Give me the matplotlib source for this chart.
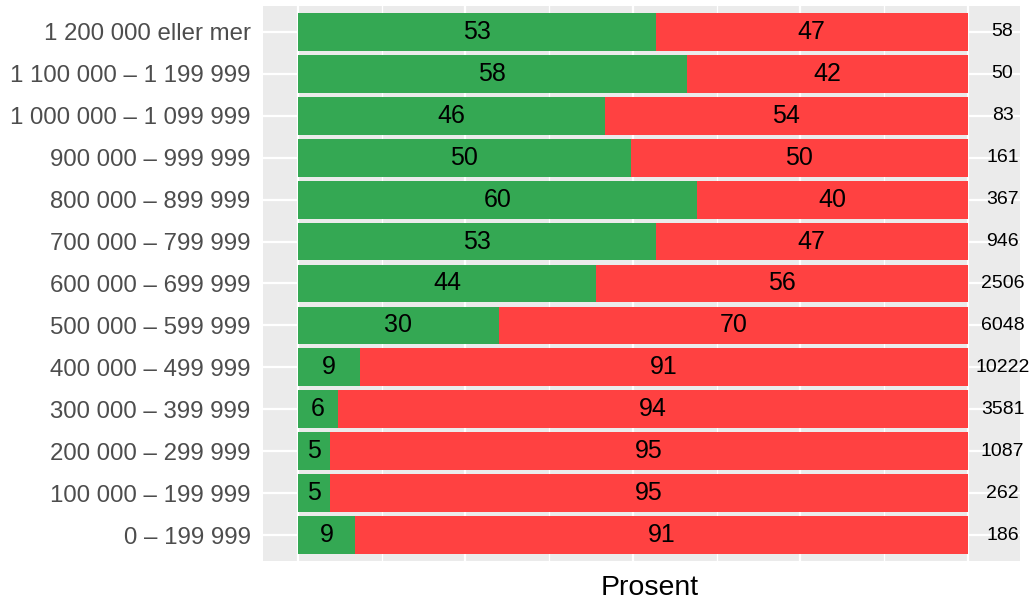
import numpy as np
import matplotlib
matplotlib.use('Agg')
import matplotlib.pyplot as plt

# Income brackets, top to bottom as shown
categories = [
    '1 200 000 eller mer',
    '1 100 000 – 1 199 999',
    '1 000 000 – 1 099 999',
    '900 000 – 999 999',
    '800 000 – 899 999',
    '700 000 – 799 999',
    '600 000 – 699 999',
    '500 000 – 599 999',
    '400 000 – 499 999',
    '300 000 – 399 999',
    '200 000 – 299 999',
    '100 000 – 199 999',
    '0 – 199 999',
]
green_share = [53.4, 58.1, 45.8, 49.7, 59.6, 53.4, 44.5, 30.0, 9.3, 6.0, 4.8, 4.8, 8.6]
# printed labels
green_labels = ['53', '58', '46', '50', '60', '53', '44', '30', '9', '6', '5', '5', '9']
red_labels = ['47', '42', '54', '50', '40', '47', '56', '70', '91', '94', '95', '95', '91']
counts = [58, 50, 83, 161, 367, 946, 2506, 6048, 10222, 3581, 1087, 262, 186]

GREEN = '#34A853'
RED = '#FF4141'
PANEL = '#EBEBEB'

plt.rcParams['font.family'] = ['Liberation Sans', 'DejaVu Sans']

fig = plt.figure(figsize=(10.34, 6.03), dpi=100)
ax = fig.add_axes([263 / 1034, 1 - 561 / 603, (1020 - 263) / 1034, (561 - 6) / 603])
ax.set_facecolor(PANEL)

n = len(categories)
y = np.arange(n)[::-1]
green = np.array(green_share)
red = 100 - green

# grid
for gx in np.arange(0, 101, 12.5):
    ax.axvline(gx, color='white', linewidth=1.6 if gx % 25 == 0 else 0.9, zorder=1)
for gy in y:
    ax.axhline(gy, color='white', linewidth=1.6, zorder=1)

ax.barh(y, green, height=0.9, color=GREEN, zorder=2)
ax.barh(y, red, left=green, height=0.9, color=RED, zorder=2)

for yi, g, r, gl, rl, c in zip(y, green, red, green_labels, red_labels, counts):
    ax.text(g / 2, yi, gl, ha='center', va='center', fontsize=18, color='black', zorder=3)
    ax.text(g + r / 2, yi, rl, ha='center', va='center', fontsize=18, color='black', zorder=3)
    ax.text(105.2, yi, str(c), ha='center', va='center', fontsize=14, color='black', zorder=3)

ax.set_xlim(-5.2, 107.8)
ax.set_ylim(-0.62, n - 1 + 0.62)
ax.set_yticks(y)
ax.set_yticklabels(categories, fontsize=17.3, color='#4D4D4D')
ax.set_xticks([])
ax.tick_params(axis='y', length=0, pad=9)
for s in ax.spines.values():
    s.set_visible(False)

ax.set_xlabel('Prosent', fontsize=20.5)
ax.xaxis.set_label_coords((650 - 263) / 757, -0.025, transform=ax.transAxes)
ax.xaxis.label.set_va('top')

fig.savefig('out.png', dpi=100)
